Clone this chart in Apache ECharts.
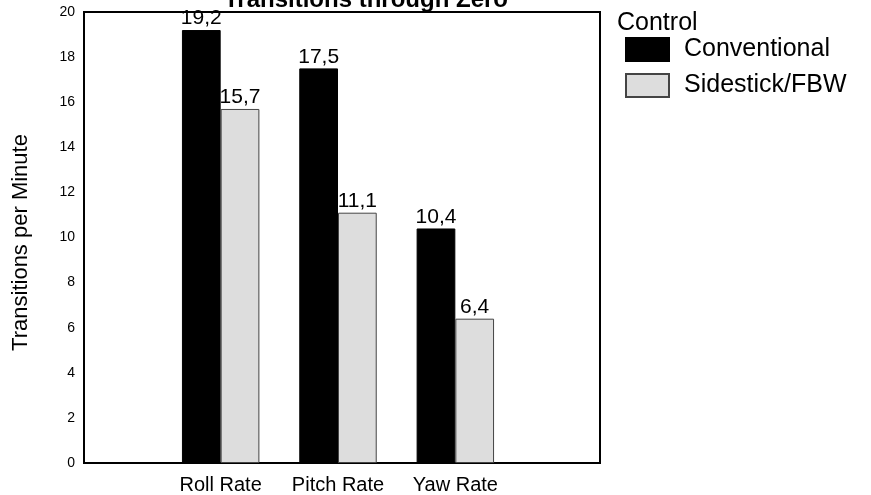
<!DOCTYPE html>
<html>
<head>
<meta charset="utf-8">
<script src="https://cdn.jsdelivr.net/npm/echarts@6/dist/echarts.min.js"></script>
<style>html,body{margin:0;padding:0;background:#fff;}#c{width:871px;height:495px;}</style>
</head>
<body>
<div id="c"></div>
<script>
const categories = ['Roll Rate', 'Pitch Rate', 'Yaw Rate'];
const conventional = [19.2, 17.5, 10.4];
const sidestick = [15.7, 11.1, 6.4];
const seriesNames = ['Conventional', 'Sidestick/FBW'];
const legendTitle = 'Control';
const chartTitle = 'Transitions through Zero';
const yTitle = 'Transitions per Minute';

const FONT = '"Liberation Sans", Arial, sans-serif';
const fmt = p => String(p.value).replace('.', ',');

const chart = echarts.init(document.getElementById('c'), null, {renderer: 'canvas'});
chart.setOption({
  animation: false,
  backgroundColor: '#ffffff',
  textStyle: {fontFamily: FONT, color: '#000'},
  title: [
    {text: chartTitle, left: 361, top: -17, textAlign: 'center',
     textStyle: {fontFamily: FONT, fontSize: 24, fontWeight: 'bold', color: '#000'}},
    {text: legendTitle, left: 612, top: 6,
     textStyle: {fontFamily: FONT, fontSize: 25, fontWeight: 'normal', color: '#000'}}
  ],
  legend: {
    orient: 'vertical', left: 620, top: 32,
    itemWidth: 43, itemHeight: 23, itemGap: 11, icon: 'rect',
    data: seriesNames,
    textStyle: {fontFamily: FONT, fontSize: 25, color: '#000', padding: [0, 0, 0, 10]}
  },
  grid: [
    {left: 84, right: 271, top: 12, bottom: 32, show: true, borderColor: '#000', borderWidth: 2, backgroundColor: '#fff'},
    {left: 162, right: 357, top: 12, bottom: 32, show: false}
  ],
  xAxis: [
    {type: 'value', gridIndex: 0, show: false, min: 0, max: 1},
    {type: 'category', gridIndex: 1, data: categories,
     axisLine: {show: false}, axisTick: {show: false},
     axisLabel: {interval: 0, fontFamily: FONT, fontSize: 20, color: '#000', margin: 12}}
  ],
  yAxis: [
    {type: 'value', gridIndex: 0, min: 0, max: 20, interval: 2,
     name: yTitle, nameLocation: 'middle', nameGap: 52, nameRotate: 90,
     nameTextStyle: {fontFamily: FONT, fontSize: 22, color: '#000', padding: [0, 10, 0, 0]},
     axisLine: {show: true, lineStyle: {color: '#000', width: 2}},
     axisTick: {show: false}, splitLine: {show: false},
     axisLabel: {fontFamily: FONT, fontSize: 14, color: '#000', margin: 9}},
    {type: 'value', gridIndex: 1, min: 0, max: 20, show: false, splitLine: {show: false}}
  ],
  series: [
    {name: seriesNames[0], type: 'bar', xAxisIndex: 1, yAxisIndex: 1, data: conventional,
     barGap: '0%', barCategoryGap: '34%',
     itemStyle: {color: '#000000', borderColor: '#000000', borderWidth: 1},
     label: {show: true, position: 'top', distance: 1, formatter: fmt,
             fontFamily: FONT, fontSize: 21, color: '#000'}},
    {name: seriesNames[1], type: 'bar', xAxisIndex: 1, yAxisIndex: 1, data: sidestick,
     barGap: '0%', barCategoryGap: '34%',
     itemStyle: {color: '#dddddd', borderColor: '#444444', borderWidth: 1},
     label: {show: true, position: 'top', distance: 1, formatter: fmt,
             fontFamily: FONT, fontSize: 21, color: '#000'}}
  ]
});
</script>
</body>
</html>
